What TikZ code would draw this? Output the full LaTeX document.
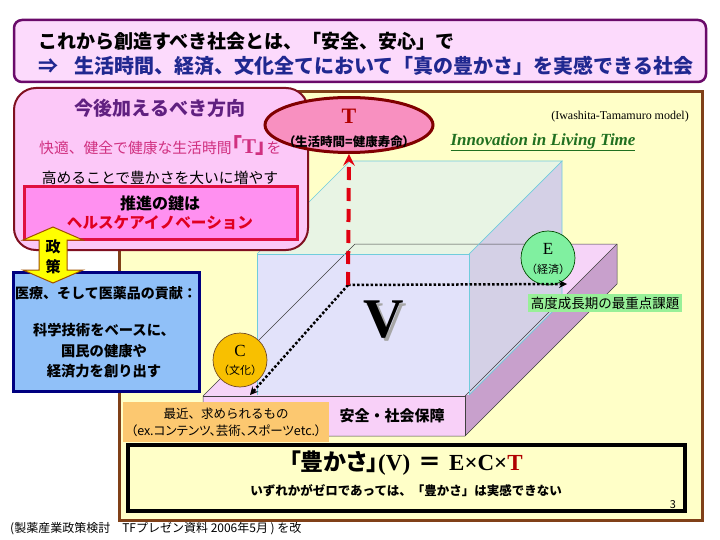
\documentclass[tikz,border=0pt]{standalone}
\usepackage{fontspec}
\setmainfont{Liberation Serif}
\newfontfamily\jp{Noto Sans CJK JP}
\newfontfamily\jpp{Noto Sans CJK JP}[RawFeature=+palt]
\usetikzlibrary{shapes.geometric, arrows}

\newcommand{\setsz}[2]{\fontsize{#1}{#2}\selectfont}

\definecolor{titlebg}{HTML}{FCDAFC}
\definecolor{titleline}{HTML}{6A0A6A}
\definecolor{titleblue}{HTML}{202890}
\definecolor{framebg}{HTML}{FFFFC8}
\definecolor{frameline}{HTML}{804018}
\definecolor{dirbg}{HTML}{FCC8F8}
\definecolor{dirline}{HTML}{801020}
\definecolor{dirpurple}{HTML}{602080}
\definecolor{dirmagenta}{HTML}{D03080}
\definecolor{keybg}{HTML}{FF90F0}
\definecolor{keyline}{HTML}{E01040}
\definecolor{keyred}{HTML}{E00020}
\definecolor{medbg}{HTML}{90C0F8}
\definecolor{medline}{HTML}{000080}
\definecolor{policybg}{HTML}{FFFF00}
\definecolor{policyline}{HTML}{A05000}
\definecolor{slabfront}{HTML}{F8D0F8}
\definecolor{slabtop}{HTML}{F6D4F8}
\definecolor{slabside}{HTML}{C8A0CC}
\definecolor{boxfront}{HTML}{E2E2FA}
\definecolor{boxtop}{HTML}{E8F4E4}
\definecolor{boxside}{HTML}{D4D0E6}
\definecolor{boxline}{HTML}{70CCDC}
\definecolor{tellbg}{HTML}{F890C0}
\definecolor{tellline}{HTML}{800000}
\definecolor{tdark}{HTML}{B00000}
\definecolor{taxisred}{HTML}{E00010}
\definecolor{ecirc}{HTML}{80F0A0}
\definecolor{ccirc}{HTML}{F8C000}
\definecolor{greenlabel}{HTML}{98F098}
\definecolor{orangelabel}{HTML}{FCC870}
\definecolor{innovgreen}{HTML}{207020}

\tikzstyle{titlebox} = [
    rounded corners=8pt,
    fill=titlebg,
    draw=titleline,
    line width=2.5pt
]
\tikzstyle{mainframe} = [
    fill=framebg,
    draw=frameline,
    line width=3pt
]
\tikzstyle{dirbox} = [
    rounded corners=22pt,
    fill=dirbg,
    draw=dirline,
    line width=2pt
]
\tikzstyle{keybox} = [
    fill=keybg,
    draw=keyline,
    line width=3pt
]
\tikzstyle{medbox} = [
    fill=medbg,
    draw=medline,
    line width=3pt
]
\tikzstyle{formulabox} = [
    fill=framebg,
    draw=black,
    line width=3.5pt
]
\tikzstyle{slabedge} = [draw=black!75, line width=0.5pt]
\tikzstyle{boxedge} = [draw=boxline, line width=0.7pt]
\tikzstyle{axiscircle} = [
    circle,
    minimum size=54pt,
    line width=0.7pt
]
\tikzstyle{dotarrow} = [black, line width=2.5pt, dotted, ->, >=stealth]
\tikzstyle{tarrow} = [taxisred, line width=4pt, dash pattern=on 13pt off 8pt, ->, >=stealth]

\begin{document}
\begin{tikzpicture}[x=1pt, y=-1pt, inner sep=0pt]
\useasboundingbox (0,0) rectangle (720,540);
\fill[white] (0,0) rectangle (720,540);

% title
\draw[titlebox] (14,20) rectangle (706,82);
\node (title1) [anchor=west, font={\jp\bfseries\setsz{19}{22}}] at (38,41)
{これから創造すべき社会とは、「安全、安心」で};
\node (title2) [anchor=west, font={\jp\bfseries\setsz{20}{22}}, text=titleblue] at (38,66)
{⇒\hspace{16pt}生活時間、経済、文化全てにおいて「真の豊かさ」を実感できる社会};

% main frame
\draw[mainframe] (119,92) rectangle (702,520);

% slab
\coordinate (sA) at (203,396);
\coordinate (sB) at (465,396);
\coordinate (sC) at (465,436);
\coordinate (sD) at (203,436);
\coordinate (sE) at (617,244);
\coordinate (sF) at (355,244);
\coordinate (sG) at (617,284);
\fill[slabtop] (sA) -- (sB) -- (sE) -- (sF) -- cycle;
\fill[slabside] (sB) -- (sE) -- (sG) -- (sC) -- cycle;
\fill[slabfront] (sA) -- (sB) -- (sC) -- (sD) -- cycle;

% value box
\coordinate (bA) at (257,254);
\coordinate (bB) at (469,254);
\coordinate (bC) at (469,395);
\coordinate (bD) at (257,395);
\coordinate (bE) at (562,161);
\coordinate (bF) at (350,161);
\coordinate (bG) at (562,302);
\fill[boxtop] (bA) -- (bB) -- (bE) -- (bF) -- cycle;
\fill[boxside] (bB) -- (bE) -- (bG) -- (bC) -- cycle;
\fill[boxfront] (bA) -- (bB) -- (bC) -- (bD) -- cycle;

% edges
\draw[slabedge] (sA) -- (sF) -- (sE) -- (sG) -- (sC) -- (sD) -- cycle;
\draw[slabedge] (sA) -- (sB) -- (sC);
\draw[slabedge] (sB) -- (sE);
\draw[boxedge] (bD) -- (bA) -- (bB) -- (bC);
\draw[boxedge] (bA) -- (bF) -- (bE) -- (bB);
\draw[boxedge] (bE) -- (bG) -- (bC);

% V with its shadow
\node (V) [font={\bfseries\setsz{56}{56}}] at (384,321)
{\makebox[0pt][l]{\hspace{3pt}\raisebox{-3pt}{\textcolor{black!35}{V}}}V};

% E and C
\node (Ecirc) [axiscircle, fill=ecirc, draw=green!30!black] at (548,258) {};
\node (Elabel) [font={\setsz{17}{17}}] at (548,249) {E};
\node (Enote) [font={\jp\setsz{11}{11}}] at (548,269) {（経済）};
\node (Ccirc) [axiscircle, fill=ccirc, draw=brown!60!black] at (240,360) {};
\node (Clabel) [font={\setsz{17}{17}}] at (240,351) {C};
\node (Cnote) [font={\jp\setsz{11}{11}}] at (240,370) {（文化）};

% axes
\coordinate (O) at (348,285);
\coordinate (Eend) at (567,284);
\coordinate (Cend) at (250,395);
\draw[dotarrow] (O) -- (Eend);
\draw[dotarrow] (O) -- (Cend);

% labels
\node (growth) [fill=greenlabel, inner sep=3pt, font={\jp\setsz{13.5}{15}}] at (605,303)
{高度成長期の最重点課題};
\node (recent) [fill=orangelabel, anchor=north west, minimum width=206pt, minimum height=40pt,
    align=center, font={\jp\setsz{12.5}{17}}] at (123,402)
{最近、求められるもの\\{\jpp （ex.コンテンツ、芸術、スポーツetc.）}};
\node (safety) [font={\jp\bfseries\setsz{15}{15}}] at (392,416) {安全・社会保障};
\node (model) [font={\setsz{12}{12}}] at (620,117) {(Iwashita-Tamamuro model)};
\node (innov) [font={\bfseries\itshape\setsz{17}{17}}, text=innovgreen] at (543,142)
{\underline{Innovation in Living Time}};

% formula
\draw[formulabox] (128,445) rectangle (685,511);
\node (formula) [font={\bfseries\setsz{23}{25}}] at (406,463)
{{\jpp 「豊かさ」}(V)\hspace{8pt}{\jp ＝}\hspace{8pt}E×C×\textcolor{tdark}{T}};
\node (formulanote) [font={\jp\bfseries\setsz{12.5}{14}}] at (406,491)
{いずれかがゼロであっては、「豊かさ」は実感できない};
\node (pageno) [font={\jp\setsz{11}{11}}] at (673,505) {3};

% direction box
\draw[dirbox] (14,88) rectangle (308,250);
\node (dirtitle) [font={\jp\bfseries\setsz{19}{22}}, text=dirpurple] at (160,108)
{今後加えるべき方向};
\node (dirline1) [anchor=west, font={\jp\setsz{14.8}{17}}, text=dirmagenta] at (39,146)
{快適、健全で健康な生活時間{\jpp\bfseries\setsz{21}{21}「}{\bfseries\rmfamily\setsz{21}{21}T}{\jpp\bfseries\setsz{21}{21}」}を};
\node (dirline2) [font={\jp\setsz{14.8}{17}}] at (160,178)
{高めることで豊かさを大いに増やす};
\draw[keybox] (24,187) rectangle (297,239);
\node (key1) [font={\jp\bfseries\setsz{16}{18}}] at (160,203) {推進の鍵は};
\node (key2) [font={\jp\bfseries\setsz{15.6}{18}}, text=keyred] at (160,223)
{ヘルスケアイノベーション};

% medicine box
\draw[medbox] (13,272) rectangle (199,391);
\node (med1) [font={\jp\bfseries\setsz{14}{16}}] at (106,293) {医療、そして医薬品の貢献：};
\node (med2) [align=center, font={\jp\bfseries\setsz{14.3}{20.5}}] at (104,351)
{科学技術をベースに、\\国民の健康や\\経済力を創り出す};

% policy arrow
\filldraw[fill=policybg, draw=policyline, line width=1pt]
    (53,227) -- (83,240) -- (67,240) -- (67,270) -- (83,270) -- (53,283)
    -- (23,270) -- (39,270) -- (39,240) -- (23,240) -- cycle;
\node (policy1) [font={\jp\bfseries\setsz{15}{15}}] at (53,247) {政};
\node (policy2) [font={\jp\bfseries\setsz{15}{15}}] at (53,267) {策};

% T ellipse
\node (Tell) [ellipse, minimum width=168pt, minimum height=55pt, fill=tellbg,
    draw=tellline, line width=3pt] at (349,125) {};
\node (Tletter) [font={\bfseries\setsz{22}{22}}, text=tdark] at (349,116) {T};
\node (Tnote) [font={\jpp\bfseries\setsz{12.5}{14}}] at (349,142) {（生活時間=健康寿命）};
\draw[tarrow] (O) -- (Tell.south);

% footnote
\node (source) [anchor=west, font={\jp\setsz{12}{14}}] at (10,529)
{(製薬産業政策検討　TFプレゼン資料 2006年5月 ) を改};

\end{tikzpicture}
\end{document}
